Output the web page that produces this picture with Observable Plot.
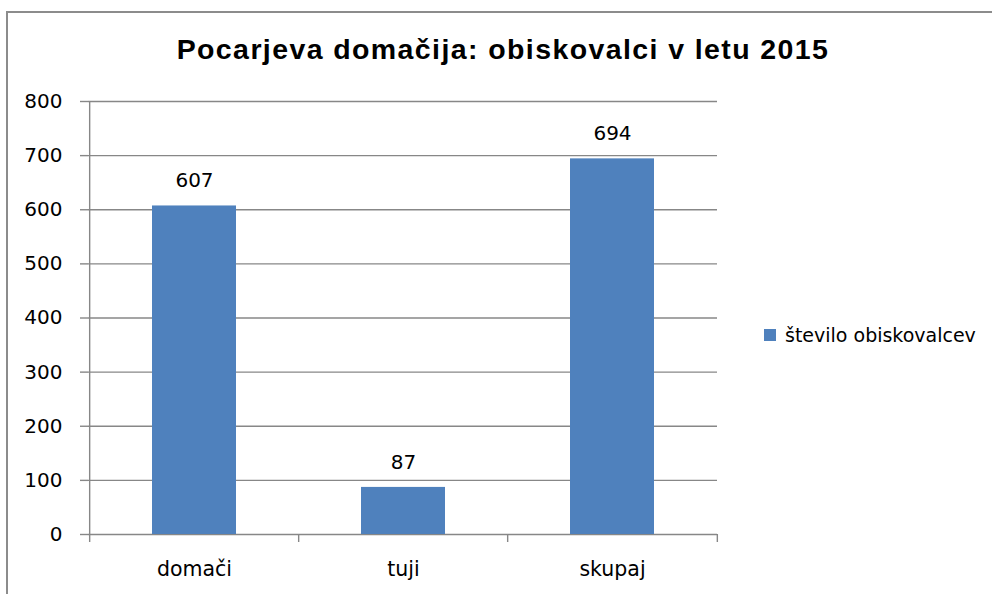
<!DOCTYPE html>
<html>
<head>
<meta charset="utf-8">
<script src="https://cdn.jsdelivr.net/npm/d3@7"></script>
<script src="https://cdn.jsdelivr.net/npm/@observablehq/plot@0.6"></script>
<style>
  html, body { margin: 0; padding: 0; background: #fff; }
  #wrap { position: relative; width: 992px; height: 594px; overflow: hidden; }
  #border { position: absolute; left: 6px; top: 11px; width: 1100px; height: 700px;
            border-left: 2px solid #8c8c8c; border-top: 2px solid #8c8c8c; box-sizing: border-box; }
  #title { position: relative; height: 90px; }
  #title span { position: absolute; left: 0; width: 1006px; top: 35px; text-align: center;
                font: bold 28.5px "Liberation Sans", Arial, sans-serif; letter-spacing: 1.4px;
                line-height: 28px; color: #000; }
  #legend { position: absolute; left: 764px; top: 324px; font: 19px "DejaVu Sans", sans-serif; color: #000;
            display: flex; align-items: center; white-space: nowrap; }
  #legend i { display: inline-block; width: 12px; height: 12px; background: #4F81BD; margin-right: 9px; }
  svg { display: block; }
</style>
</head>
<body>
<div id="wrap">
  <div id="border"></div>
  <div id="title"><span>Pocarjeva domačija: obiskovalci v letu 2015</span></div>
  <div id="chart"></div>
  <div id="legend"><i></i><span>število obiskovalcev</span></div>
</div>
<script>
const categories = ["domači", "tuji", "skupaj"];
const values = [607, 87, 694];
const yTicks = [0, 100, 200, 300, 400, 500, 600, 700, 800];
const seriesName = "število obiskovalcev";

const data = categories.map((c, i) => ({category: c, value: values[i]}));

const W = 992, H = 504;
const mL = 88, mR = 275, mT = 11, mB = 60;
const step = (W - mL - mR) / categories.length;
const tickLenUnits = 8 * 800 / (H - mT - mB);
const grid = "#878787";

const chart = Plot.plot({
  width: W,
  height: H,
  marginLeft: mL,
  marginRight: mR,
  marginTop: mT,
  marginBottom: mB,
  style: {fontFamily: "'DejaVu Sans', sans-serif", fontSize: "20px", color: "#000", background: "transparent"},
  x: {domain: categories, paddingInner: 0.6, paddingOuter: 0.3, label: null},
  y: {domain: [0, 800], label: null},
  marks: [
    Plot.ruleY(yTicks, {stroke: grid, strokeWidth: 1.4}),
    Plot.ruleX(categories, {x: d => d, dx: -step / 2, y1: 0, y2: -tickLenUnits, stroke: grid, strokeWidth: 1.4}),
    Plot.ruleX(categories.slice(-1), {x: d => d, dx: step / 2, y1: 0, y2: -tickLenUnits, stroke: grid, strokeWidth: 1.4}),
    Plot.ruleX([categories[0]], {x: d => d, dx: -step / 2, y1: 0, y2: 800, stroke: grid, strokeWidth: 1.4}),
    Plot.barY(data, {x: "category", y: "value", fill: "#4F81BD"}),
    Plot.text(data, {x: "category", y: "value", text: d => String(d.value), dy: -25, fill: "#000", fontSize: 20}),
    Plot.axisY({ticks: yTicks, tickSize: 8, tickPadding: 18, stroke: grid, strokeWidth: 1.4, fontSize: 20, tickFormat: d => String(d)}),
    Plot.axisX({tickSize: 0, tickPadding: 27, fontSize: 20.5})
  ]
});
document.getElementById("chart").appendChild(chart);
</script>
</body>
</html>
